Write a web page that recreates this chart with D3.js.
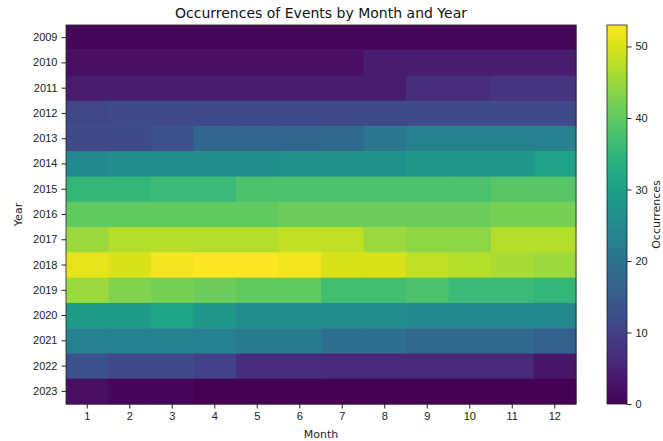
<!DOCTYPE html>
<html>
<head>
<meta charset="utf-8">
<script src="https://cdn.jsdelivr.net/npm/d3@7"></script>
<style>
  body { margin: 0; background: #fff; }
  svg { font-family: "DejaVu Sans", sans-serif; }
  .axis text { font-size: 11px; fill: #222; }
  .axis path, .axis line { stroke: #222; }
</style>
</head>
<body>
<svg id="chart" width="663" height="441"></svg>
<script>
const months = [1, 2, 3, 4, 5, 6, 7, 8, 9, 10, 11, 12];
const years = [2009, 2010, 2011, 2012, 2013, 2014, 2015, 2016, 2017, 2018, 2019, 2020, 2021, 2022, 2023];

// one row per year, Jan..Dec
const y2009 = [1, 1, 1, 1, 1, 1, 1, 1, 1, 1, 1, 1];
const y2010 = [2, 2, 2, 2, 2, 2, 2, 4, 4, 4, 4, 4];
const y2011 = [4, 4, 4, 4, 4, 4, 4, 4, 7, 7, 8, 8];
const y2012 = [11, 12, 12, 12, 12, 12, 12, 12, 12, 12, 12, 12];
const y2013 = [12, 12, 13, 17, 17, 17, 18, 21, 23, 23, 23, 23];
const y2014 = [25, 26, 26, 26, 26, 27, 27, 27, 28, 28, 28, 30];
const y2015 = [35, 35, 36, 36, 38, 38, 38, 38, 38, 38, 39, 39];
const y2016 = [40, 40, 40, 40, 40, 41, 41, 41, 41, 41, 42, 42];
const y2017 = [45, 47, 47, 47, 47, 48, 48, 45, 44, 44, 47, 47];
const y2018 = [51, 50, 52, 53, 53, 52, 50, 50, 48, 47, 46, 45];
const y2019 = [45, 43, 42, 41, 40, 40, 37, 37, 38, 36, 36, 35];
const y2020 = [29, 29, 31, 28, 26, 26, 26, 26, 25, 25, 25, 25];
const y2021 = [23, 23, 23, 23, 22, 22, 19, 19, 18, 18, 18, 16];
const y2022 = [13, 12, 12, 10, 7, 7, 6, 6, 6, 6, 6, 3];
const y2023 = [2, 1, 1, 0, 0, 0, 0, 0, 0, 0, 0, 0];

const rows = [y2009, y2010, y2011, y2012, y2013, y2014, y2015, y2016, y2017, y2018, y2019, y2020, y2021, y2022, y2023];
const cbTicks = [0, 10, 20, 30, 40, 50];

const cells = [];
rows.forEach((r, i) => r.forEach((v, j) => cells.push({ year: years[i], month: months[j], value: v })));

const svg = d3.select('#chart');
const plotL = 66, plotR = 576, plotT = 25, plotB = 404;

const x = d3.scaleBand().domain(months).range([plotL, plotR]);
const y = d3.scaleBand().domain(years).range([plotT, plotB]);
const vmax = d3.max(cells, d => d.value);
const color = d3.scaleSequential(d3.interpolateViridis).domain([0, vmax]);

svg.append('g')
  .selectAll('rect')
  .data(cells)
  .join('rect')
  .attr('x', d => x(d.month))
  .attr('y', d => y(d.year))
  .attr('width', x.bandwidth() + 0.5)
  .attr('height', y.bandwidth() + 0.5)
  .attr('fill', d => color(d.value));

svg.append('rect')
  .attr('x', plotL).attr('y', plotT)
  .attr('width', plotR - plotL).attr('height', plotB - plotT)
  .attr('fill', 'none').attr('stroke', '#222').attr('stroke-width', 0.8);

svg.append('g')
  .attr('class', 'axis')
  .attr('transform', `translate(0,${plotB})`)
  .call(d3.axisBottom(x).tickSize(4.5).tickPadding(4))
  .call(g => g.select('.domain').remove());

svg.append('g')
  .attr('class', 'axis')
  .attr('transform', `translate(${plotL},0)`)
  .call(d3.axisLeft(y).tickSize(4.5).tickPadding(4))
  .call(g => g.select('.domain').remove());

svg.append('text')
  .attr('x', (plotL + plotR) / 2).attr('y', 18)
  .attr('text-anchor', 'middle')
  .style('font-size', '14px').attr('fill', '#111')
  .text('Occurrences of Events by Month and Year');

svg.append('text')
  .attr('x', (plotL + plotR) / 2).attr('y', 438)
  .attr('text-anchor', 'middle')
  .style('font-size', '11px').attr('fill', '#222')
  .text('Month');

svg.append('text')
  .attr('transform', `translate(22,${(plotT + plotB) / 2}) rotate(-90)`)
  .attr('text-anchor', 'middle')
  .style('font-size', '11px').attr('fill', '#222')
  .text('Year');

// colorbar
const cbX = 607, cbW = 20;
const cbScale = d3.scaleLinear().domain([0, vmax]).range([plotB, plotT]);
const defs = svg.append('defs');
const grad = defs.append('linearGradient')
  .attr('id', 'cb').attr('x1', 0).attr('y1', 1).attr('x2', 0).attr('y2', 0);
d3.range(0, 1.0001, 0.05).forEach(t => {
  grad.append('stop').attr('offset', t).attr('stop-color', d3.interpolateViridis(t));
});
svg.append('rect')
  .attr('x', cbX).attr('y', plotT)
  .attr('width', cbW).attr('height', plotB - plotT)
  .attr('fill', 'url(#cb)')
  .attr('stroke', '#222').attr('stroke-width', 0.8);

svg.append('g')
  .attr('class', 'axis')
  .attr('transform', `translate(${cbX + cbW},0)`)
  .call(d3.axisRight(cbScale).tickValues(cbTicks).tickSize(4.5).tickPadding(4))
  .call(g => g.select('.domain').remove());

svg.append('text')
  .attr('transform', `translate(660,${(plotT + plotB) / 2}) rotate(-90)`)
  .attr('text-anchor', 'middle')
  .style('font-size', '11px').attr('fill', '#222')
  .text('Occurrences');
</script>
</body>
</html>
